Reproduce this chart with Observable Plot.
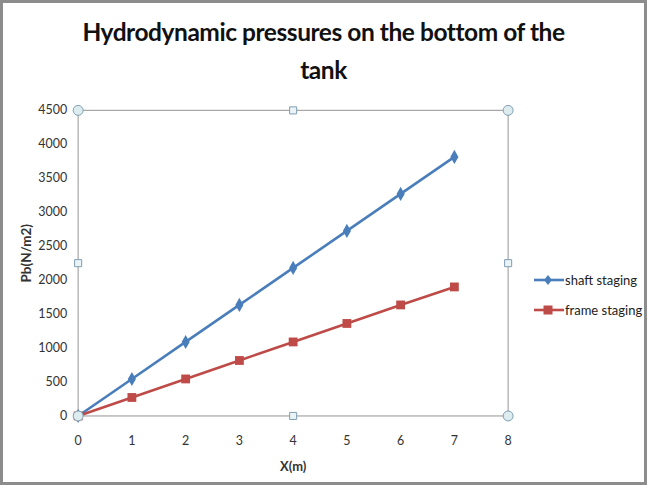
<!DOCTYPE html>
<html><head><meta charset="utf-8">
<script src="https://cdn.jsdelivr.net/npm/d3@7"></script>
<script src="https://cdn.jsdelivr.net/npm/@observablehq/plot@0.6"></script>
<style>
body{margin:0;background:#fff;}
#wrap{position:relative;width:641px;height:479px;border:3px solid #8c8c8c;overflow:hidden;background:#fff;}
#title{position:absolute;left:0;top:0;width:641px;height:82px;text-align:center;font-family:Lato,sans-serif;font-weight:bold;font-size:24.5px;line-height:38px;padding-top:10px;box-sizing:border-box;color:#111;letter-spacing:-0.45px;}
#chart{position:absolute;left:-3px;top:82px;}
#legend{position:absolute;left:530px;top:262px;font-family:Lato,sans-serif;font-size:13px;color:#222;white-space:nowrap;}
#legend div{height:30px;display:flex;align-items:center;}
</style></head>
<body>
<div id="wrap">
<div id="title">Hydrodynamic pressures on the bottom of the<br>tank</div>
<div id="chart"></div>
<div id="legend"></div>
</div>
<script>
const xs = [0, 1, 2, 3, 4, 5, 6, 7];
const shaft = [0, 545, 1090, 1635, 2180, 2725, 3270, 3815];
const frame = [0, 272, 545, 817, 1090, 1362, 1635, 1900];
const seriesNames = ["shaft staging", "frame staging"];
const colors = ["#4a7ebb", "#be4b48"];
const yTicks = [0, 500, 1000, 1500, 2000, 2500, 3000, 3500, 4000, 4500];
const xTicks = [0, 1, 2, 3, 4, 5, 6, 7, 8];
const handleCircles = [[0, 0], [0, 4500], [8, 4500], [8, 0]];
const handleSquares = [[4, 4500], [4, 0], [0, 2250], [8, 2250]];

const data = [];
xs.forEach((x, i) => {
  data.push({x, y: shaft[i], s: seriesNames[0]});
  data.push({x, y: frame[i], s: seriesNames[1]});
});
const shaftData = data.filter(d => d.s === seriesNames[0]);
const frameData = data.filter(d => d.s === seriesNames[1]);
const font = 'Lato,sans-serif';

const plot = Plot.plot({
  width: 647, height: 400,
  marginLeft: 78, marginRight: 137, marginTop: 25, marginBottom: 68,
  style: {fontFamily: font, fontSize: "12.5px", color: "#333", background: "transparent"},
  x: {domain: [0, 8]},
  y: {domain: [0, 4500]},
  marks: [
    Plot.frame({stroke: "#a6a6a6", strokeWidth: 1.2}),
    Plot.axisX({ticks: xTicks, tickSize: 0, tickPadding: 20, tickFormat: d3.format("d"), label: "X(m)", labelAnchor: "center", labelArrow: "none", labelOffset: 55, fill: "#333"}),
    Plot.axisY({ticks: yTicks, tickSize: 0, tickPadding: 11, tickFormat: d3.format("d"), label: "Pb(N/m2)", labelAnchor: "center", labelArrow: "none", labelOffset: 57, fill: "#333"}),
    Plot.line(shaftData, {x: "x", y: "y", stroke: colors[0], strokeWidth: 2.6}),
    Plot.line(frameData, {x: "x", y: "y", stroke: colors[1], strokeWidth: 2.6}),
    Plot.dot(shaftData, {x: "x", y: "y", symbol: "diamond", fill: colors[0], r: 4.3}),
    Plot.dot(frameData, {x: "x", y: "y", symbol: "square", fill: colors[1], r: 5}),
    Plot.dot(handleCircles, {x: d => d[0], y: d => d[1], r: 5, fill: "#dcecef", stroke: "#7f9db0", strokeWidth: 1}),
    Plot.dot(handleSquares, {x: d => d[0], y: d => d[1], symbol: "square", r: 4, fill: "#eaf4f7", stroke: "#7f9db0", strokeWidth: 1})
  ]
});
d3.select(plot).selectAll("g[aria-label='x-axis label'] text").attr("font-weight", "bold").attr("font-size", "13px");
d3.select(plot).selectAll("g[aria-label='y-axis label'] text").attr("font-weight", "bold").attr("font-size", "13.5px").attr("dx", 10);
document.getElementById("chart").appendChild(plot);

const legend = document.getElementById("legend");
seriesNames.forEach((n, i) => {
  const row = document.createElement("div");
  const sym = i === 0
    ? `<path d="M15,1 L19,6 L15,11 L11,6 Z" fill="${colors[0]}"/>`
    : `<rect x="10.5" y="1.5" width="9" height="9" fill="${colors[1]}"/>`;
  row.innerHTML = `<svg width="32" height="12"><line x1="1" y1="6" x2="31" y2="6" stroke="${colors[i]}" stroke-width="2.6"/>${sym}</svg><span>${n}</span>`;
  legend.appendChild(row);
});
</script>
</body></html>
